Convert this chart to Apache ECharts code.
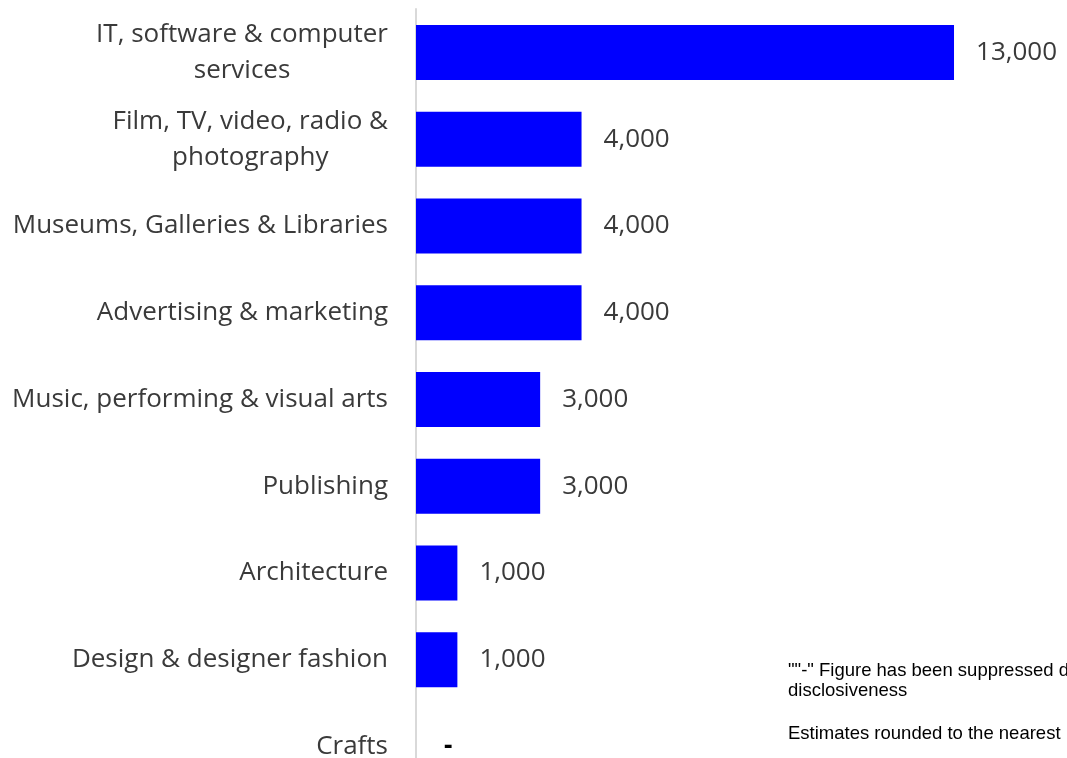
<!DOCTYPE html>
<html>
<head>
<meta charset="utf-8">
<script src="https://cdn.jsdelivr.net/npm/echarts@6/dist/echarts.min.js"></script>
<style>
html,body{margin:0;padding:0;background:#fff;}
#chart{width:1067px;height:758px;}
</style>
</head>
<body>
<div id="chart"></div>
<script>
const categories = [
  'IT, software & computer\nservices',
  'Film, TV, video, radio &\nphotography',
  'Museums, Galleries & Libraries',
  'Advertising & marketing',
  'Music, performing & visual arts',
  'Publishing',
  'Architecture',
  'Design & designer fashion',
  'Crafts'
];
const values = [13000, 4000, 4000, 4000, 3000, 3000, 1000, 1000, 0];
const suppressed = [false, false, false, false, false, false, false, false, true];
const notes = [
  '""-" Figure has been suppressed due to\ndisclosiveness',
  'Estimates rounded to the nearest 1,000'
];

const labelFont = '"Open Sans", sans-serif';
const chart = echarts.init(document.getElementById('chart'));
chart.setOption({
  animation: false,
  backgroundColor: '#ffffff',
  grid: { left: 416, right: 71.6, top: 9, height: 781, containLabel: false, outerBoundsMode: 'none' },
  xAxis: {
    type: 'value', min: 0, max: 14000, show: false
  },
  yAxis: {
    type: 'category',
    data: categories,
    inverse: true,
    axisLine: { show: true, lineStyle: { color: '#d9d9d9', width: 2 } },
    axisTick: { show: false },
    axisLabel: {
      margin: 28,
      align: 'right',
      color: '#3a3a3a',
      fontFamily: labelFont,
      fontSize: 26,
      lineHeight: 36,
      formatter: function (v) {
        return v.split('\n').map(function (s) { return '{c|' + s + '}'; }).join('\n');
      },
      rich: {
        c: { align: 'center', color: '#3a3a3a', fontFamily: labelFont, fontSize: 26, lineHeight: 36 }
      }
    }
  },
  series: [{
    type: 'bar',
    data: values,
    barWidth: 55,
    itemStyle: { color: '#0000ff' },
    label: {
      show: true,
      position: 'right',
      distance: 22,
      color: '#3a3a3a',
      fontFamily: labelFont,
      fontSize: 26,
      formatter: function (p) {
        return suppressed[p.dataIndex] ? '{s|-}' : p.value.toLocaleString('en-US');
      },
      rich: {
        s: { fontFamily: labelFont, fontSize: 26, fontWeight: 'bold', color: '#000', padding: [0, 0, 0, 6] }
      }
    }
  }],
  graphic: [
    { type: 'text', left: 788, top: 661,
      style: { text: notes[0], font: '18.5px "Liberation Sans", Arial, sans-serif', fill: '#000', lineHeight: 20 } },
    { type: 'text', left: 788, top: 724,
      style: { text: notes[1], font: '18.5px "Liberation Sans", Arial, sans-serif', fill: '#000' } }
  ]
});
</script>
</body>
</html>
